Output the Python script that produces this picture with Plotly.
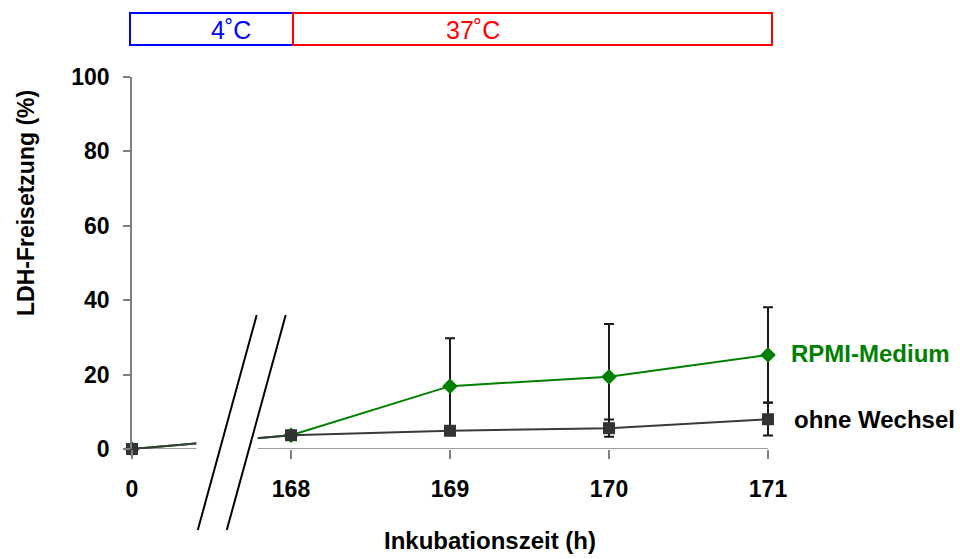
import plotly.graph_objects as go

# ---- data ----
tick_labels = ["0", "168", "169", "170", "171"]
positions = [0, 1, 2, 3, 4]

rpmi_name = "RPMI-Medium"
rpmi_values = [0, 3.7, 16.9, 19.4, 25.3]
rpmi_err = [0, 0, 12.9, 14.2, 12.8]

ohne_name = "ohne Wechsel"
ohne_values = [0, 3.7, 4.9, 5.6, 8.0]
ohne_err = [0, 0, 0, 2.3, 4.4]

phase_labels = ["4˚C", "37˚C"]
phase_colors = ["#0000ff", "#ff0000"]

FONT = "Liberation Sans, Arial, sans-serif"

L, T, W, H = 132, 77, 642, 372  # plot area in px (x=4 sits at 768 px)
XMAX = 4 * W / 636


def px(xp):
    return (xp - L) / W


def py(yp):
    return (T + H - yp) / H


fig = go.Figure()

# x-axis baseline from 0 to last category
fig.add_shape(type="line", xref="x", yref="y", x0=0, x1=4, y0=0, y1=0,
              line=dict(color="#7f7f7f", width=1.5), layer="below")

fig.add_trace(go.Scatter(
    x=positions, y=rpmi_values, name=rpmi_name, mode="lines+markers",
    line=dict(color="#008000", width=2),
    marker=dict(symbol="diamond", size=12, color="#008000"),
    error_y=dict(type="data", array=rpmi_err, visible=True, color="#1a1a1a",
                 thickness=2, width=5),
    cliponaxis=False,
))
fig.add_trace(go.Scatter(
    x=positions, y=ohne_values, name=ohne_name, mode="lines+markers",
    line=dict(color="#3a3a3a", width=2),
    marker=dict(symbol="square", size=12, color="#333333"),
    error_y=dict(type="data", array=ohne_err, visible=True, color="#1a1a1a",
                 thickness=2, width=5),
    cliponaxis=False,
))

# axis break: white patch over axis/lines, then two slashes
fig.add_shape(type="rect", xref="x", yref="y", x0=0.405, x1=0.79, y0=-2.5, y1=3.2,
              fillcolor="white", line=dict(width=0), layer="above")
for dx in [0, 29]:
    fig.add_shape(type="line", xref="paper", yref="paper",
                  x0=px(197.8 + dx), y0=py(530),
                  x1=px(256.7 + dx), y1=py(315),
                  line=dict(color="black", width=2), layer="above")

# phase boxes on top
boxes = [(130, 293), (293, 772)]
for (a, b), col in zip(boxes, phase_colors):
    fig.add_shape(type="rect", xref="paper", yref="paper", x0=px(a), x1=px(b),
                  y0=py(45), y1=py(13),
                  line=dict(color=col, width=2), fillcolor="rgba(0,0,0,0)")
for lab, xc, col in zip(phase_labels, [231, 473], phase_colors):
    fig.add_annotation(x=px(xc), y=py(30), xref="paper", yref="paper",
                       xanchor="center", yanchor="middle",
                       text=lab, showarrow=False,
                       font=dict(family=FONT, size=25, color=col))

# series labels
fig.add_annotation(x=4, y=rpmi_values[-1] + 0.3, xref="x", yref="y", xanchor="left",
                   yanchor="middle", xshift=21, text="<b>" + rpmi_name + "</b>",
                   showarrow=False, font=dict(family=FONT, size=24, color="#008000"))
fig.add_annotation(x=4, y=ohne_values[-1] - 0.2, xref="x", yref="y", xanchor="left",
                   yanchor="middle", xshift=24, text="<b>" + ohne_name + "</b>",
                   showarrow=False, font=dict(family=FONT, size=24, color="black"))

# axis titles (placed as annotations)
fig.add_annotation(x=px(490), y=py(540), xref="paper", yref="paper",
                   xanchor="center", yanchor="middle",
                   text="<b>Inkubationszeit (h)</b>", showarrow=False,
                   font=dict(family=FONT, size=24, color="black"))
fig.add_annotation(x=px(26), y=py(203), xref="paper", yref="paper", textangle=-90,
                   xanchor="center", yanchor="middle",
                   text="<b>LDH-Freisetzung (%)</b>", showarrow=False,
                   font=dict(family=FONT, size=23, color="black"))

fig.update_layout(
    width=960, height=559,
    margin=dict(l=L, r=960 - L - W, t=T, b=559 - T - H, pad=0),
    paper_bgcolor="white", plot_bgcolor="white",
    showlegend=False,
    font=dict(family=FONT, size=18, color="black"),
    xaxis=dict(
        range=[0, XMAX], tickmode="array", tickvals=positions,
        ticktext=["<b>" + t + "</b>" for t in tick_labels],
        showgrid=False, zeroline=False, showline=False,
        ticks="outside", ticklen=9, tickcolor="#7f7f7f", tickwidth=1.5,
        ticklabelstandoff=10, tickfont=dict(family=FONT, size=23, color="black"),
    ),
    yaxis=dict(
        range=[0, 100], tickmode="array", tickvals=[0, 20, 40, 60, 80, 100],
        ticktext=["<b>%d</b>" % v for v in [0, 20, 40, 60, 80, 100]],
        showgrid=False, zeroline=False, showline=True, linecolor="#7f7f7f", linewidth=1.5,
        ticks="outside", ticklen=7, tickcolor="#7f7f7f", tickwidth=1.5,
        ticklabelstandoff=9, tickfont=dict(family=FONT, size=23, color="black"),
    ),
)

fig.write_html("out.html", config={"displayModeBar": False},
               post_script="document.body.style.margin='0px';")
